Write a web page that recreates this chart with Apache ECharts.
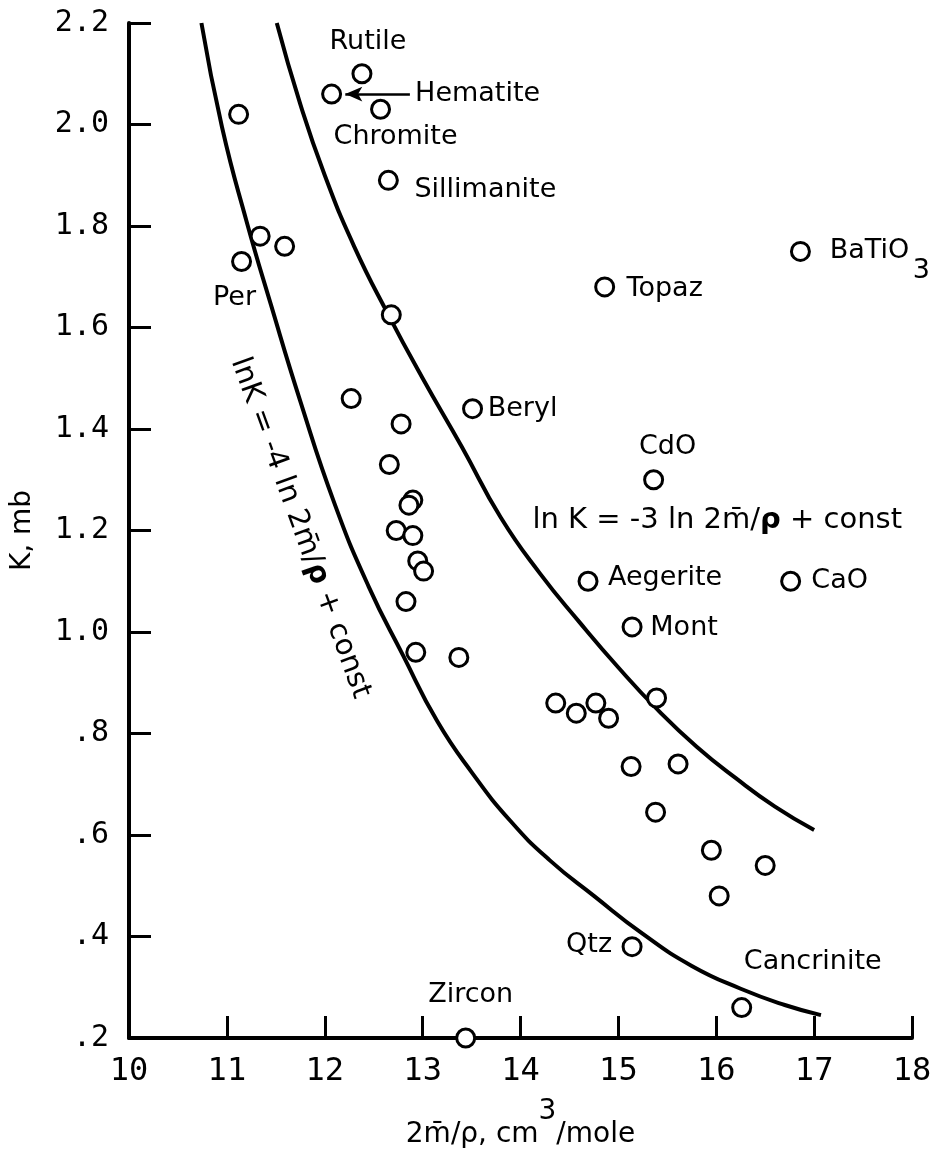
<!DOCTYPE html>
<html>
<head>
<meta charset="utf-8">
<script src="https://cdn.jsdelivr.net/npm/echarts@6/dist/echarts.min.js"></script>
<style>
  html, body { margin: 0; padding: 0; background: #fff; }
  #chart { width: 943px; height: 1149px; }
</style>
</head>
<body>
<div id="chart"></div>
<script>
// Molar volume 2m̄/ρ (cm³/mole) of each sample
const molarVolume = [
  12.38, 12.07, 12.57, 11.12, 12.65, 11.34, 11.59, 11.15, 12.68, 14.86,
  16.86, 13.51, 12.27, 12.78, 12.66, 12.90, 12.86, 12.73, 12.90, 12.95,
  13.01, 12.83, 12.93, 13.37, 15.36, 14.69, 16.76, 15.14, 14.36, 14.57,
  14.77, 14.90, 15.39, 15.13, 15.61, 15.38, 15.95, 16.03, 16.50, 15.14,
  16.26, 13.44
];
// K (mb) of each sample
const kValues = [
  2.10, 2.06, 2.03, 2.02, 1.89, 1.78, 1.76, 1.73, 1.625, 1.68,
  1.75, 1.44, 1.46, 1.41, 1.33, 1.26, 1.25, 1.20, 1.19, 1.14,
  1.12, 1.06, 0.96, 0.95, 1.30, 1.10, 1.10, 1.01, 0.86, 0.84,
  0.86, 0.83, 0.87, 0.735, 0.74, 0.645, 0.57, 0.48, 0.54, 0.38,
  0.26, 0.20
];
// Mineral names ('' = unlabelled sample)
const sampleNames = [
  'Rutile', 'Hematite', 'Chromite', '', 'Sillimanite', '', '', 'Per', '', 'Topaz',
  'BaTiO3', 'Beryl', '', '', '', '', '', '', '', '',
  '', '', '', '', 'CdO', 'Aegerite', 'CaO', 'Mont', '', '',
  '', '', '', '', '', '', '', '', '', 'Qtz',
  'Cancrinite', 'Zircon'
];

// Reference curve ln K = -3 ln 2m̄/ρ + const
const upperCurveX = [11.51, 11.75, 12.00, 12.30, 12.65, 13.00, 13.40, 13.80, 14.20, 14.60, 15.00, 15.40, 15.80, 16.20, 16.60, 17.00];
const upperCurveK = [2.20, 2.04, 1.90, 1.76, 1.625, 1.50, 1.365, 1.225, 1.115, 1.02, 0.93, 0.847, 0.774, 0.712, 0.656, 0.61];
// Reference curve ln K = -4 ln 2m̄/ρ + const
const lowerCurveX = [10.74, 10.95, 11.20, 11.45, 11.75, 12.10, 12.45, 12.80, 13.15, 13.50, 13.90, 14.30, 14.75, 15.25, 15.75, 16.25, 16.70, 17.07];
const lowerCurveK = [2.20, 1.995, 1.81, 1.645, 1.455, 1.253, 1.089, 0.954, 0.824, 0.724, 0.627, 0.550, 0.48, 0.405, 0.342, 0.297, 0.265, 0.245];

// Tick labels
const xTickLabels = ['10', '11', '12', '13', '14', '15', '16', '17', '18'];
const yTickLabels = ['.2', '.4', '.6', '.8', '1.0', '1.2', '1.4', '1.6', '1.8', '2.0', '2.2'];

// ---- layout / styling ----
const FONT = 'DejaVu Sans';
const MONO = 'DejaVu Sans Mono';
const INK = '#000';

// pixel offsets of the name labels from their circles
const nameOffsets = {
  'Rutile': [6, -32], 'Hematite': [146, 0], 'Chromite': [15, 28], 'Sillimanite': [97, 10],
  'Per': [-7, 36], 'Topaz': [60, 2], 'BaTiO3': [69, 0], 'Beryl': [50, 0],
  'CdO': [14, -33], 'Aegerite': [77, -3], 'CaO': [49, 0], 'Mont': [52, 1],
  'Qtz': [-43, -2], 'Cancrinite': [71, -46], 'Zircon': [5, -43]
};
const nameText = { 'BaTiO3': 'BaTiO' };

const points = molarVolume.map((x, i) => [x, kValues[i]]);
const idx = name => sampleNames.indexOf(name);

const sampleData = points.map((p, i) => {
  const nm = sampleNames[i];
  const item = { value: p };
  if (nm && nameOffsets[nm]) {
    item.label = { show: true, formatter: nameText[nm] || nm, offset: nameOffsets[nm] };
  }
  return item;
});

const hem = points[idx('Hematite')];
const bat = points[idx('BaTiO3')];

const eqRich = {
  t: { fontFamily: FONT, fontSize: 29, color: INK },
  r: { fontFamily: FONT, fontSize: 29, color: INK, fontWeight: 'bold' }
};

const annotations = [
  { value: bat, label: { show: true, formatter: '3', offset: [121, 20], fontSize: 27 } },
  { value: [16.01, 1.22], label: { show: true, formatter: '{t|ln K = -3 ln 2m̄/}{r|ρ}{t| + const}', rich: eqRich } },
  { value: [11.75, 1.205], label: { show: true, rotate: -70, formatter: '{t|lnK = -4 ln 2m̄/}{r|ρ}{t| + const}', rich: eqRich } }
];

const curveStyle = { color: INK, width: 4, opacity: 1 };

const chart = echarts.init(document.getElementById('chart'), null, { renderer: 'canvas' });

chart.setOption({
  backgroundColor: '#fff',
  animation: false,
  grid: { left: 129, right: 31, top: 23, bottom: 111, containLabel: false, outerBoundsMode: 'none' },
  xAxis: {
    type: 'value', min: 10, max: 18, interval: 1,
    name: '{n|2m̄/ρ, cm}{sup|3}{n|/mole}',
    nameLocation: 'middle', nameGap: 60,
    nameTextStyle: {
      rich: {
        n: { fontFamily: FONT, fontSize: 28, color: INK },
        sup: { fontFamily: FONT, fontSize: 28, color: INK, padding: [0, 0, 46, 0] }
      }
    },
    axisLine: { show: true, onZero: false, lineStyle: { color: INK, width: 4 } },
    axisTick: { show: true, inside: true, length: 22, lineStyle: { color: INK, width: 3 } },
    axisLabel: {
      color: INK, fontFamily: MONO, fontSize: 32, margin: 18,
      formatter: v => xTickLabels[Math.round(v - 10)]
    },
    splitLine: { show: false }
  },
  yAxis: {
    type: 'value', min: 0.2, max: 2.2, interval: 0.2,
    name: 'K, mb',
    nameLocation: 'middle', nameGap: 92,
    nameTextStyle: { fontFamily: FONT, fontSize: 28, color: INK },
    axisLine: { show: true, onZero: false, lineStyle: { color: INK, width: 4 } },
    axisTick: { show: true, inside: true, length: 22, lineStyle: { color: INK, width: 3 } },
    axisLabel: {
      color: INK, fontFamily: MONO, fontSize: 30, margin: 20,
      formatter: v => yTickLabels[Math.round((v - 0.2) / 0.2)]
    },
    splitLine: { show: false }
  },
  series: [
    {
      name: 'ln K = -3 ln 2m/ρ + const', type: 'line', silent: true,
      data: upperCurveX.map((x, i) => [x, upperCurveK[i]]),
      smooth: 0.5, showSymbol: false, symbol: 'none',
      lineStyle: curveStyle, z: 2
    },
    {
      name: 'ln K = -4 ln 2m/ρ + const', type: 'line', silent: true,
      data: lowerCurveX.map((x, i) => [x, lowerCurveK[i]]),
      smooth: 0.5, showSymbol: false, symbol: 'none',
      lineStyle: curveStyle, z: 2
    },
    {
      name: 'samples', type: 'scatter', clip: false,
      symbol: 'circle', symbolSize: 18,
      itemStyle: { color: '#fff', borderColor: INK, borderWidth: 3, opacity: 1 },
      label: {
        show: false, position: 'inside', color: INK, fontFamily: FONT, fontSize: 27,
        align: 'center', verticalAlign: 'middle'
      },
      data: sampleData,
      z: 5,
      markLine: {
        silent: true, animation: false,
        symbol: ['none', 'arrow'], symbolSize: [11, 17],
        lineStyle: { color: INK, width: 2.5, type: 'solid', opacity: 1 },
        itemStyle: { color: INK },
        label: { show: false },
        data: [[{ coord: [hem[0] + 0.80, hem[1]] }, { coord: [hem[0] + 0.14, hem[1]] }]]
      }
    },
    {
      name: 'notes', type: 'scatter', clip: false, silent: true,
      symbol: 'circle', symbolSize: 1,
      itemStyle: { color: 'rgba(0,0,0,0)', opacity: 1 },
      label: {
        show: true, position: 'inside', color: INK, fontFamily: FONT, fontSize: 29,
        align: 'center', verticalAlign: 'middle'
      },
      data: annotations,
      z: 6
    }
  ]
});
</script>
</body>
</html>
